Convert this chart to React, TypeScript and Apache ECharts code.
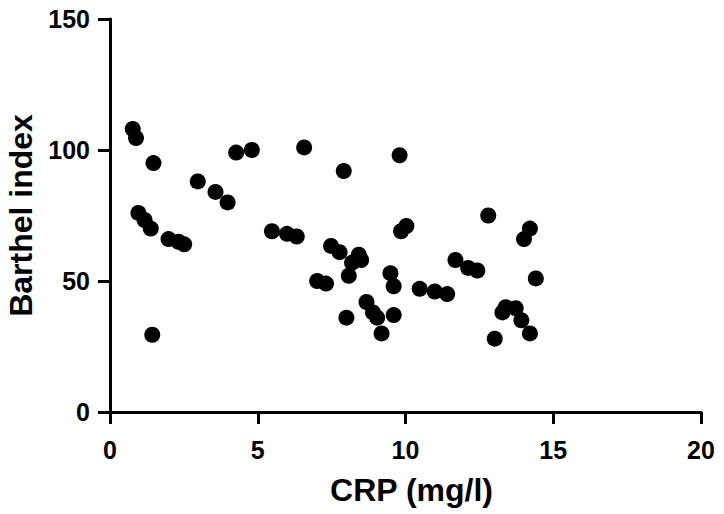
import React, { useEffect, useRef } from "react";
import * as echarts from "echarts";

const crp: number[] = [
  0.77, 0.88, 1.47, 4.27, 4.8, 6.57, 2.97, 3.57, 3.98, 0.96,
  1.17, 1.38, 1.98, 2.32, 2.51, 5.48, 5.99, 6.32, 1.43, 9.8,
  7.91, 10.03, 9.85, 7.48, 7.77, 8.42, 8.5, 8.19, 8.08, 7.01,
  7.31, 9.49, 9.6, 8.68, 8.9, 9.04, 8.0, 9.6, 9.19, 10.48,
  12.8, 14.21, 14.01, 11.69, 12.12, 12.43, 14.41, 10.99, 11.41, 13.39,
  13.28, 13.73, 13.92, 14.21, 13.02,
];
const barthel: number[] = [
  108, 104.6, 95, 99, 100, 101, 88, 84, 80, 76,
  73.3, 70, 66, 65, 64, 69, 68, 67, 29.5, 98,
  92, 71, 69, 63.4, 61, 60, 58, 57, 52, 50,
  49, 53, 48, 42, 38, 36, 36, 37, 30, 47,
  75, 70, 66, 58, 55, 54, 51, 46, 45, 40,
  38, 39.6, 35, 30, 28,
];
const xTicks = { min: 0, max: 20, interval: 5 };
const yTicks = { min: 0, max: 150, interval: 50 };
const xTitle = "CRP (mg/l)";
const yTitle = "Barthel index";

export default function App() {
  const ref = useRef<HTMLDivElement>(null);
  useEffect(() => {
    if (!ref.current) return;
    const chart = echarts.init(ref.current, null, { renderer: "svg" });
    const font = "'Liberation Sans', Arial, sans-serif";
    const axisCommon = {
      axisLine: { show: true, lineStyle: { color: "#000", width: 3 } },
      axisTick: { show: true, length: 12, lineStyle: { color: "#000", width: 3 } },
      splitLine: { show: false },
      nameLocation: "middle" as const,
    };
    chart.setOption({
      animation: false,
      backgroundColor: "#fff",
      grid: {
        left: 110,
        right: 23,
        top: 19,
        bottom: 102,
        containLabel: false,
        outerBoundsMode: "none",
      },
      xAxis: {
        type: "value",
        ...axisCommon,
        min: xTicks.min,
        max: xTicks.max,
        interval: xTicks.interval,
        axisLabel: {
          color: "#000",
          fontSize: 25,
          fontWeight: "bold",
          fontFamily: font,
          margin: 25,
        },
        name: xTitle,
        nameGap: 62,
        nameTextStyle: {
          color: "#000",
          fontSize: 32,
          fontWeight: "bold",
          fontFamily: font,
          padding: [0, 0, 0, 12],
        },
      },
      yAxis: {
        type: "value",
        ...axisCommon,
        min: yTicks.min,
        max: yTicks.max,
        interval: yTicks.interval,
        axisLabel: {
          color: "#000",
          fontSize: 25,
          fontWeight: "bold",
          fontFamily: font,
          margin: 20,
        },
        name: yTitle,
        nameGap: 73,
        nameTextStyle: {
          color: "#000",
          fontSize: 32,
          fontWeight: "bold",
          fontFamily: font,
        },
      },
      series: [
        {
          type: "scatter",
          symbol: "circle",
          symbolSize: 16,
          itemStyle: { color: "#000", opacity: 1 },
          data: crp.map((x, i) => [x, barthel[i]]),
        },
      ],
    });
    return () => chart.dispose();
  }, []);
  return <div ref={ref} style={{ width: 724, height: 514, position: "fixed", left: 0, top: 0 }} />;
}
